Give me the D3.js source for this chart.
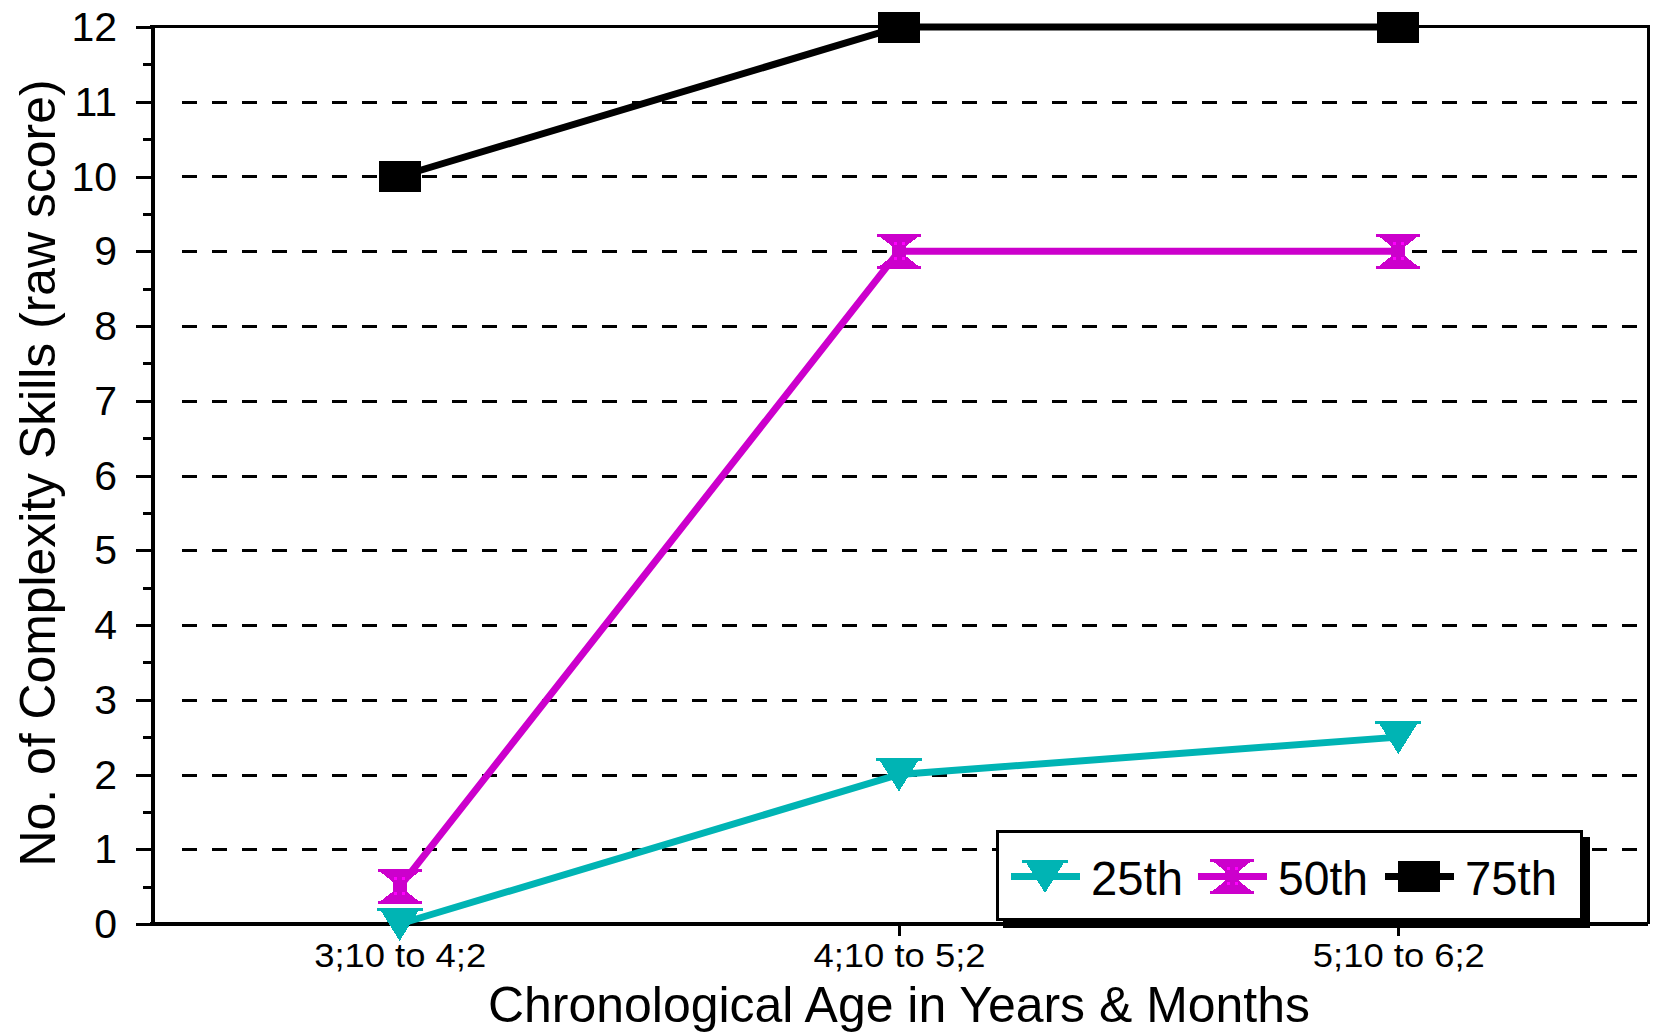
<!DOCTYPE html>
<html>
<head>
<meta charset="utf-8">
<script src="https://cdn.jsdelivr.net/npm/d3@7"></script>
<style>
  html, body { margin: 0; padding: 0; background: #fff; }
  svg { display: block; }
  text { font-family: "Liberation Sans", Arial, sans-serif; fill: #000; }
</style>
</head>
<body>
<svg id="chart" width="1656" height="1033"></svg>
<script>
// Age bands (x axis categories)
const categories = ["3;10 to 4;2", "4;10 to 5;2", "5;10 to 6;2"];

// Percentile series: number of complexity skills (raw score)
const p25 = [0, 2, 2.5];
const p50 = [0.5, 9, 9];
const p75 = [10, 12, 12];

const seriesNames = ["25th", "50th", "75th"];
const seriesValues = [p25, p50, p75];

// Axis ticks
const yTickValues = [0, 1, 2, 3, 4, 5, 6, 7, 8, 9, 10, 11, 12];
const yMinorTickValues = [0.5, 1.5, 2.5, 3.5, 4.5, 5.5, 6.5, 7.5, 8.5, 9.5, 10.5, 11.5];

const yTitle = "No. of Complexity Skills (raw score)";
const xTitle = "Chronological Age in Years & Months";

// ---- styling ----
const styles = {
  "25th": { color: "#00b4b4", symbol: "triangle" },
  "50th": { color: "#cc00cc", symbol: "hourglass", dot: "#ff00ff" },
  "75th": { color: "#000000", symbol: "square" }
};

const svg = d3.select("#chart");

const plotLeft = 150, plotRight = 1648, plotTop = 27, plotBottom = 924;

const x = d3.scalePoint().domain(categories).range([plotLeft, plotRight]).padding(0.5);
const y = d3.scaleLinear().domain([0, 12]).range([plotBottom, plotTop]);

// Dashed horizontal grid lines (snapped to whole pixels)
svg.append("g")
  .selectAll("line")
  .data(yTickValues.filter(v => v > 0 && v < 12))
  .join("line")
  .attr("x1", plotLeft + 32).attr("x2", plotRight)
  .attr("y1", d => Math.round(y(d)) + 0.5).attr("y2", d => Math.round(y(d)) + 0.5)
  .attr("stroke", "#000").attr("stroke-width", 3)
  .attr("stroke-dasharray", "15 15")
  .attr("shape-rendering", "crispEdges");

// Plot frame: top and right edges
svg.append("path")
  .attr("d", `M${plotLeft},${plotTop - 1}H${plotRight}V${plotBottom}`)
  .attr("fill", "none").attr("stroke", "#000").attr("stroke-width", 3)
  .attr("shape-rendering", "crispEdges");

// Y axis: major ticks with labels
const yAxis = svg.append("g")
  .attr("transform", `translate(${plotLeft + 2},0)`)
  .call(d3.axisLeft(y).tickValues(yTickValues).tickSize(16).tickSizeOuter(0).tickPadding(19));
yAxis.select(".domain").attr("stroke-width", 4).attr("shape-rendering", "crispEdges");
yAxis.selectAll(".tick line").attr("stroke-width", 3).attr("shape-rendering", "crispEdges");
yAxis.selectAll(".tick text")
  .style("font-family", '"Liberation Sans", Arial, sans-serif')
  .attr("font-size", 41).attr("dy", "0.33em");

// Y axis: minor half-unit ticks
const yMinor = svg.append("g")
  .attr("transform", `translate(${plotLeft + 2},0)`)
  .call(d3.axisLeft(y).tickValues(yMinorTickValues).tickSize(9).tickSizeOuter(0).tickFormat(""));
yMinor.select(".domain").remove();
yMinor.selectAll(".tick line").attr("stroke-width", 3).attr("shape-rendering", "crispEdges");

// X axis
const xAxis = svg.append("g")
  .attr("transform", `translate(0,${plotBottom})`)
  .call(d3.axisBottom(x).tickSize(12).tickSizeOuter(0));
xAxis.select(".domain").attr("stroke-width", 4).attr("shape-rendering", "crispEdges")
  .attr("d", `M${plotLeft},0H${plotRight}`);
xAxis.selectAll(".tick line").attr("stroke-width", 3).attr("shape-rendering", "crispEdges");
xAxis.selectAll(".tick text")
  .style("font-family", '"Liberation Sans", Arial, sans-serif')
  .attr("font-size", 34).attr("y", 43).attr("dy", 0)
  .attr("textLength", 172).attr("lengthAdjust", "spacingAndGlyphs");

// Axis titles
svg.append("text")
  .attr("transform", "translate(55,473) rotate(-90)")
  .attr("text-anchor", "middle")
  .attr("font-size", 50)
  .attr("textLength", 787).attr("lengthAdjust", "spacingAndGlyphs")
  .text(yTitle);

svg.append("text")
  .attr("x", 899).attr("y", 1022)
  .attr("text-anchor", "middle")
  .attr("font-size", 50)
  .attr("textLength", 822).attr("lengthAdjust", "spacingAndGlyphs")
  .text(xTitle);

// Marker shapes
function drawSymbol(g, name, cx, cy) {
  const st = styles[name];
  const m = g.append("g").attr("transform", `translate(${cx},${cy})`)
    .attr("shape-rendering", "crispEdges");
  if (st.symbol === "triangle") {
    m.append("path")
      .attr("d", "M-23,-16.5H23V-13.5H19L0,17L-19,-13.5H-23Z")
      .attr("fill", st.color);
  } else if (st.symbol === "hourglass") {
    m.append("path")
      .attr("d", "M-22,-17.5H22V-14.5H19L7,-5V5L19,14.5H22V17.5H-22V14.5H-19L-7,5V-5L-19,-14.5H-22Z")
      .attr("fill", st.color);
    [[-4, -8], [4, -8], [-4, 7], [4, 7]].forEach(([dx, dy]) => {
      m.append("rect").attr("x", dx - 1.5).attr("y", dy - 1.5)
        .attr("width", 3).attr("height", 3).attr("fill", st.dot);
    });
  } else {
    m.append("rect").attr("x", -21).attr("y", -15.5)
      .attr("width", 42).attr("height", 31).attr("fill", st.color);
  }
}

// Series lines and markers
const line = d3.line()
  .x((d, i) => x(categories[i]))
  .y(d => y(d));

const seriesG = svg.append("g");
seriesNames.forEach((name, k) => {
  seriesG.append("path")
    .datum(seriesValues[k])
    .attr("d", line)
    .attr("fill", "none")
    .attr("stroke", styles[name].color)
    .attr("stroke-width", 7)
    .attr("stroke-linejoin", "miter");
});
seriesNames.forEach((name, k) => {
  seriesValues[k].forEach((v, i) => drawSymbol(seriesG, name, x(categories[i]), y(v)));
});

// Legend with drop shadow
const lg = svg.append("g");
const lx = 996, ly = 830, lw = 587, lh = 91;
lg.append("rect").attr("x", lx + 7).attr("y", ly + 7).attr("width", lw).attr("height", lh)
  .attr("fill", "#000").attr("shape-rendering", "crispEdges");
lg.append("rect").attr("x", lx + 1.5).attr("y", ly + 1.5).attr("width", lw - 3).attr("height", lh - 3)
  .attr("fill", "#fff").attr("stroke", "#000").attr("stroke-width", 3.5)
  .attr("shape-rendering", "crispEdges");

const itemX0 = 1011, itemStep = 187, itemCy = 876;
const textWidths = [92, 90, 92];
seriesNames.forEach((name, k) => {
  const ix = itemX0 + k * itemStep;
  lg.append("line")
    .attr("x1", ix).attr("x2", ix + 69)
    .attr("y1", itemCy).attr("y2", itemCy)
    .attr("stroke", styles[name].color).attr("stroke-width", 7)
    .attr("shape-rendering", "crispEdges");
  drawSymbol(lg, name, ix + 34, itemCy);
  lg.append("text")
    .attr("x", ix + 80).attr("y", 895)
    .attr("font-size", 48)
    .attr("textLength", textWidths[k]).attr("lengthAdjust", "spacingAndGlyphs")
    .text(name);
});
</script>
</body>
</html>
